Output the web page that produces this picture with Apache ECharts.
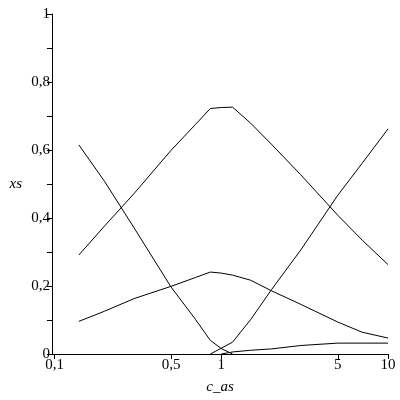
<!DOCTYPE html>
<html><head><meta charset="utf-8">
<script src="https://cdn.jsdelivr.net/npm/echarts@6/dist/echarts.min.js"></script>
<style>html,body{margin:0;padding:0;background:#fff}#c{width:400px;height:400px}</style>
</head><body><div id="c"></div>
<script>
const cAs = [0.14, 0.2, 0.3, 0.5, 0.7, 0.86, 1, 1.17, 1.5, 2, 3, 5, 7, 10];
const xsA = [0.615, 0.507, 0.371, 0.197, 0.102, 0.040, 0.016, 0.0, null, null, null, null, null, null];
const xsB = [0.291, 0.377, 0.472, 0.599, 0.675, 0.722, 0.725, 0.726, 0.679, 0.617, 0.527, 0.408, 0.335, 0.263];
const xsC = [null, null, null, null, null, 0.0, 0.017, 0.035, 0.101, 0.189, 0.306, 0.467, 0.561, 0.662];
const xsD = [0.096, 0.126, 0.163, 0.199, 0.225, 0.241, 0.238, 0.232, 0.217, 0.186, 0.146, 0.094, 0.064, 0.047];
const xsE = [null, null, null, null, null, null, 0.0, 0.006, 0.011, 0.015, 0.025, 0.032, 0.032, 0.032];
const xTicks = [0.1, 0.5, 1, 5, 10];
const yTicks = [0, 0.2, 0.4, 0.6, 0.8, 1];

function pairs(ys){ const out=[]; ys.forEach((y,i)=>{ if(y!==null) out.push([cAs[i], y]); }); return out; }
const fmt = v => { const r = Math.round(v*10)/10; return String(r).replace('.', ','); };
const yFmt = v => yTicks.some(t => Math.abs(t - v) < 1e-6) ? fmt(v) : '';
const font = 'Liberation Serif';
const chart = echarts.init(document.getElementById('c'));
const mk = ys => ({type:'line', data:pairs(ys), showSymbol:false, symbol:'none', lineStyle:{color:'#000', width:1}, itemStyle:{color:'#000'}, animation:false});
chart.setOption({
  animation:false,
  grid:{left:52, right:12, top:14, bottom:43},
  xAxis:{type:'log', logBase:10, min:0.0966, max:10,
    name:'c_as', nameLocation:'middle', nameGap:26,
    nameTextStyle:{fontFamily:font, fontStyle:'italic', fontSize:15, color:'#000'},
    axisLine:{lineStyle:{color:'#000', width:1}},
    axisTick:{show:true, length:5, customValues:xTicks, lineStyle:{color:'#000'}},
    minorTick:{show:false},
    splitLine:{show:false},
    axisLabel:{customValues:xTicks, fontFamily:font, fontSize:15, color:'#000', margin:4, formatter:v=>fmt(v)}
  },
  yAxis:{type:'value', min:0, max:1, interval:0.1,
    name:'xs', nameLocation:'middle', nameRotate:0, nameGap:30,
    nameTextStyle:{fontFamily:font, fontStyle:'italic', fontSize:15, color:'#000'},
    axisLine:{show:true, lineStyle:{color:'#000', width:1}},
    axisTick:{show:true, length:5, lineStyle:{color:'#000'}},
    splitLine:{show:false},
    axisLabel:{fontFamily:font, fontSize:15, color:'#000', margin:2, formatter:yFmt}
  },
  series:[mk(xsA), mk(xsB), mk(xsC), mk(xsD), mk(xsE)]
});
</script></body></html>
